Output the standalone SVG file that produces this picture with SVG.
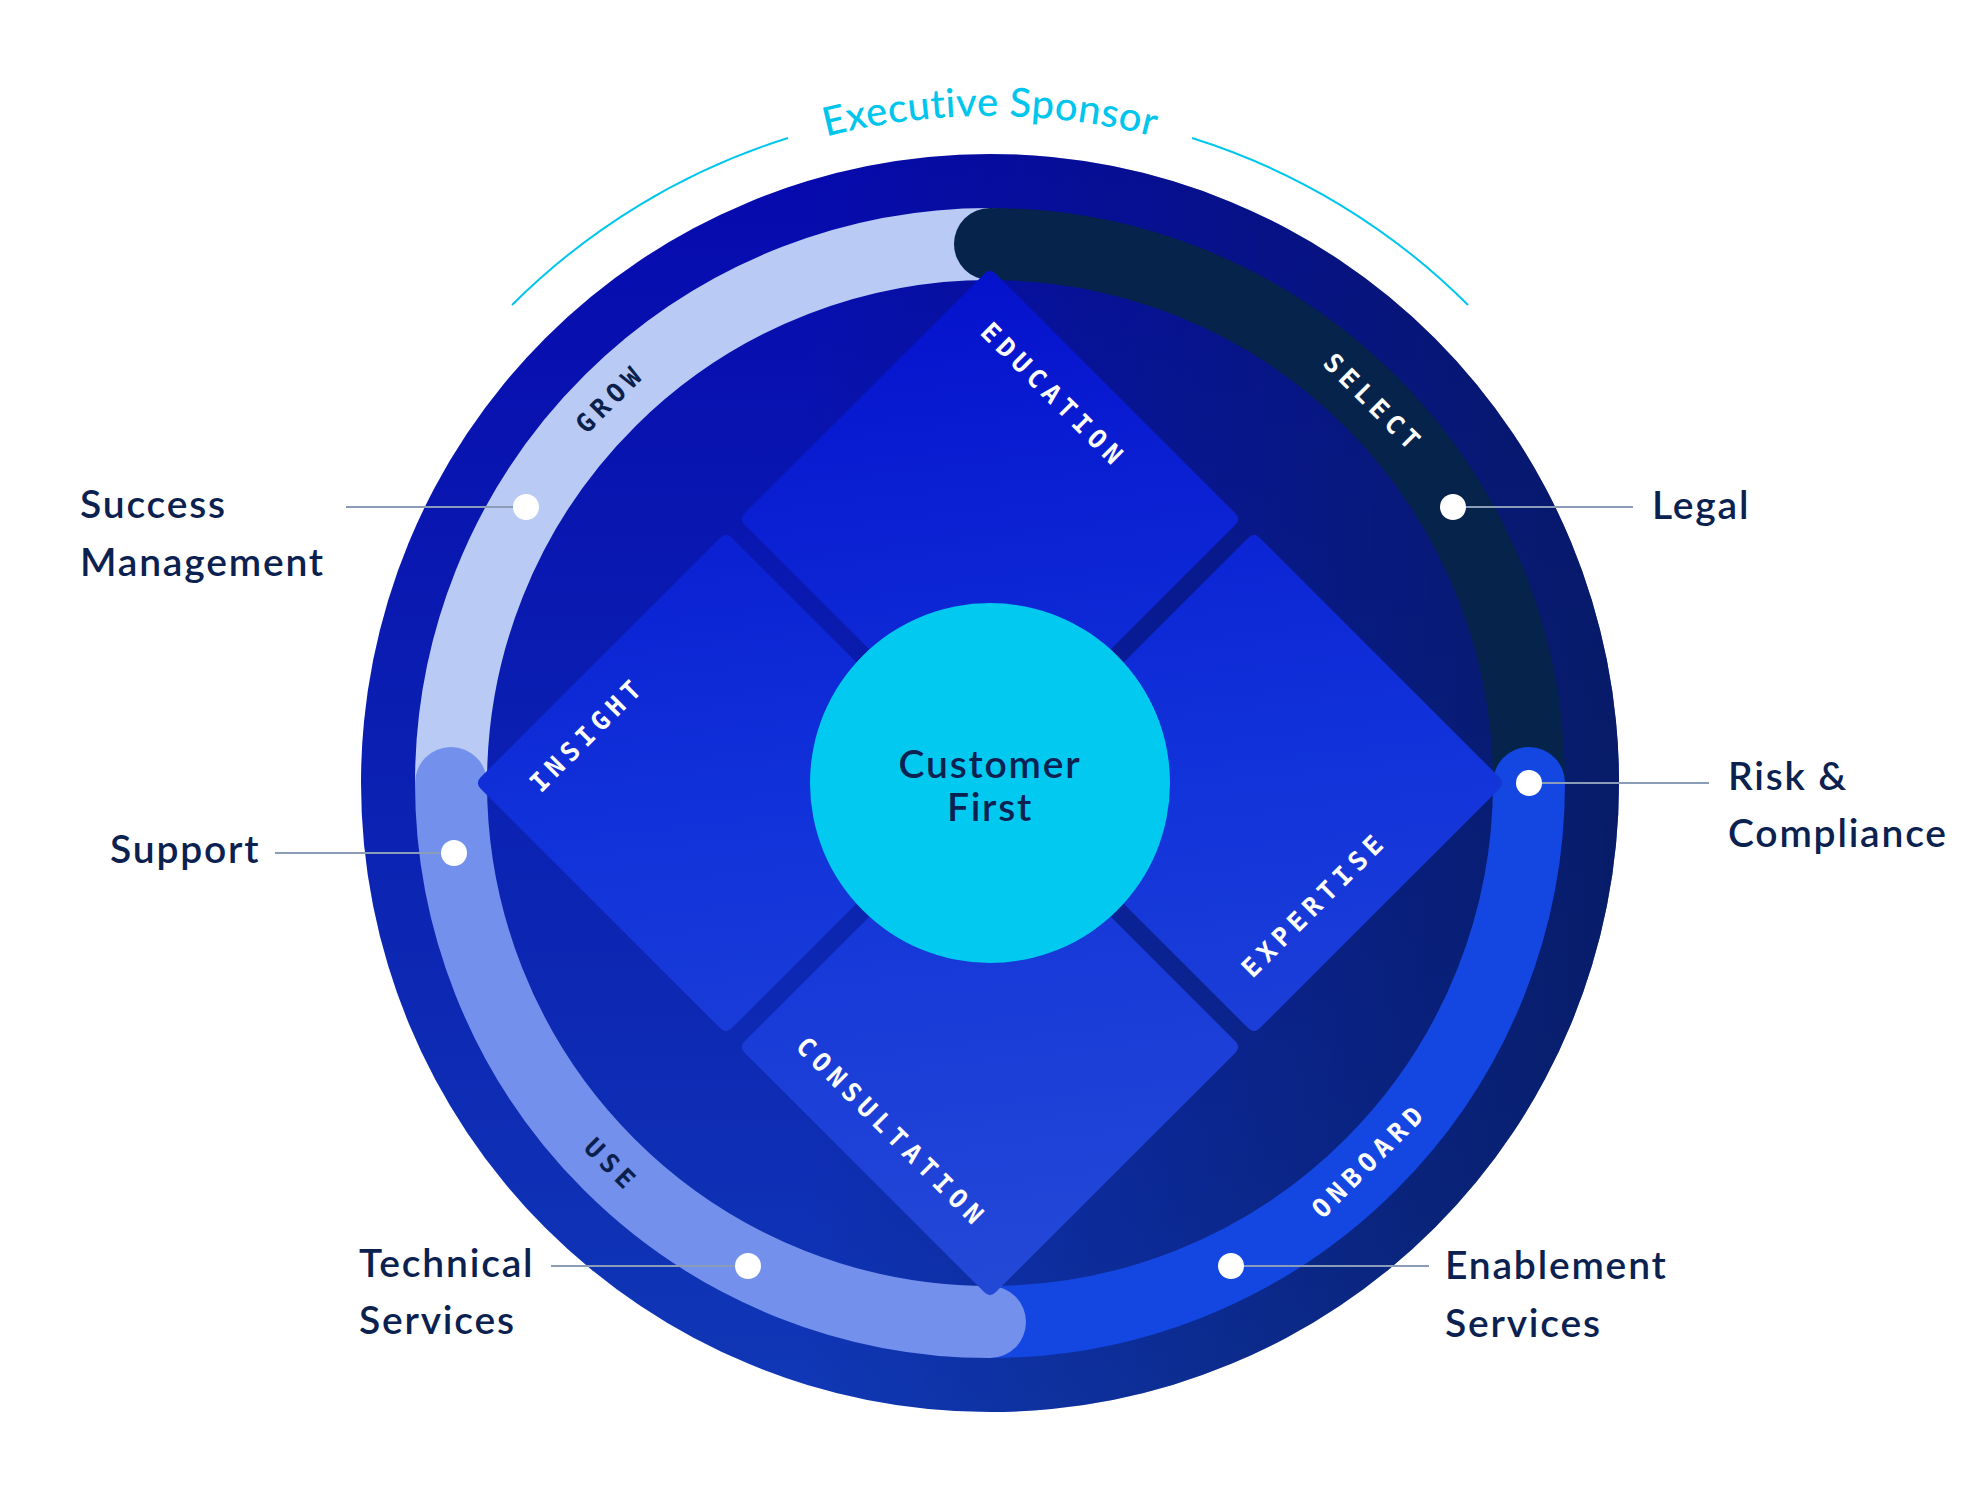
<svg xmlns="http://www.w3.org/2000/svg" width="1980" height="1503" viewBox="0 0 1980 1503">
  <defs>
    <linearGradient id="gV" gradientUnits="userSpaceOnUse" x1="990" y1="154" x2="990" y2="1412">
      <stop offset="0" stop-color="#0609AE"/>
      <stop offset="1" stop-color="#1038B6"/>
    </linearGradient>
    <linearGradient id="gH" gradientUnits="userSpaceOnUse" x1="361" y1="0" x2="1619" y2="0">
      <stop offset="0" stop-color="#061A50" stop-opacity="0"/>
      <stop offset="0.35" stop-color="#061A50" stop-opacity="0"/>
      <stop offset="1" stop-color="#061A50" stop-opacity="0.75"/>
    </linearGradient>
    <linearGradient id="gD" gradientUnits="userSpaceOnUse" x1="930" y1="268" x2="1050" y2="1298">
      <stop offset="0" stop-color="#0511CC"/>
      <stop offset="0.5" stop-color="#1132DA"/>
      <stop offset="1" stop-color="#2449D6"/>
    </linearGradient>
    <path id="sponsorPath" d="M 412.4 449.5 A 667 667 0 0 1 1567.6 449.5"/>
    <style>
      .lbl { font-family: Lato, "Liberation Sans", sans-serif; font-size: 39px; font-weight: 600; letter-spacing: 1.8px; fill: #0B2150; }
      .mono { font-family: "DejaVu Sans Mono", "Liberation Mono", monospace; font-size: 26px; font-weight: 700; letter-spacing: 5.8px; text-anchor: middle; }
      .w { fill: #FFFFFF; }
      .d { fill: #0B1F4D; }
      .seg { fill: none; stroke-width: 72; }
      .diamond { fill: url(#gD); }
      .lead { stroke: #8A9CB8; stroke-width: 2; fill: none; }
      .dot { fill: #FFFFFF; }
      .spon { fill: none; stroke: #00C6EE; stroke-width: 2; }
    </style>
  </defs>

  <rect width="1980" height="1503" fill="#FFFFFF"/>

  <!-- Executive sponsor arc -->
  <g id="executive-sponsor">
    <path class="spon" d="M 512 305 A 676 676 0 0 1 788 138"/>
    <path class="spon" d="M 1192 138 A 676 676 0 0 1 1468 305"/>
    <text font-family="Lato, 'Liberation Sans', sans-serif" font-size="40" font-weight="500" letter-spacing="0.4" fill="#00C6EE"><textPath href="#sponsorPath" startOffset="50%" text-anchor="middle">Executive Sponsor</textPath></text>
  </g>

  <!-- Outer disk -->
  <g id="disk">
    <circle cx="990" cy="783" r="629" fill="url(#gV)"/>
    <circle cx="990" cy="783" r="629" fill="url(#gH)"/>
  </g>

  <!-- Ring segments -->
  <g id="ring">
    <g id="seg-grow">
      <path class="seg" stroke="#B9CAF5" d="M 451 783 A 539 539 0 0 1 995 244"/>
      <text class="mono d" transform="translate(608 400) rotate(-45)" x="2.9" y="9.5">GROW</text>
    </g>
    <g id="seg-select">
      <path class="seg" stroke="#06244B" stroke-linecap="round" d="M 990 244 A 539 539 0 0 1 1529 783"/>
      <text class="mono w" transform="translate(1372 401) rotate(45)" x="2.9" y="9.5">SELECT</text>
    </g>
    <g id="seg-onboard">
      <path class="seg" stroke="#1447E2" stroke-linecap="round" d="M 1529 783 A 539 539 0 0 1 990 1322"/>
      <text class="mono w" transform="translate(1367 1162) rotate(-45)" x="2.9" y="9.5">ONBOARD</text>
    </g>
    <g id="seg-use">
      <path class="seg" stroke="#7390EC" stroke-linecap="round" d="M 990 1322 A 539 539 0 0 1 451 783"/>
      <text class="mono d" transform="translate(610 1163) rotate(45)" x="2.9" y="9.5">USE</text>
    </g>
  </g>

  <!-- Diamonds -->
  <g id="education">
    <path class="diamond" d="M 995.66 273.66 L 1235.34 513.34 Q 1241 519 1235.34 524.66 L 995.66 764.34 Q 990 770 984.34 764.34 L 744.66 524.66 Q 739 519 744.66 513.34 L 984.34 273.66 Q 990 268 995.66 273.66 Z"/>
    <text class="mono w" transform="translate(1052 393) rotate(45)" x="2.9" y="9.5">EDUCATION</text>
  </g>
  <g id="insight">
    <path class="diamond" d="M 731.66 537.66 L 971.34 777.34 Q 977 783 971.34 788.66 L 731.66 1028.34 Q 726 1034 720.34 1028.34 L 480.66 788.66 Q 475 783 480.66 777.34 L 720.34 537.66 Q 726 532 731.66 537.66 Z"/>
    <text class="mono w" transform="translate(585 736) rotate(-45)" x="2.9" y="9.5">INSIGHT</text>
  </g>
  <g id="expertise">
    <path class="diamond" d="M 1259.66 537.66 L 1499.34 777.34 Q 1505 783 1499.34 788.66 L 1259.66 1028.34 Q 1254 1034 1248.34 1028.34 L 1008.66 788.66 Q 1003 783 1008.66 777.34 L 1248.34 537.66 Q 1254 532 1259.66 537.66 Z"/>
    <text class="mono w" transform="translate(1312 906) rotate(-45)" x="2.9" y="9.5">EXPERTISE</text>
  </g>
  <g id="consultation">
    <path class="diamond" d="M 995.66 801.66 L 1235.34 1041.34 Q 1241 1047 1235.34 1052.66 L 995.66 1292.34 Q 990 1298 984.34 1292.34 L 744.66 1052.66 Q 739 1047 744.66 1041.34 L 984.34 801.66 Q 990 796 995.66 801.66 Z"/>
    <text class="mono w" transform="translate(890 1130) rotate(45)" x="2.9" y="9.5">CONSULTATION</text>
  </g>

  <!-- Center -->
  <g id="customer-first">
    <circle cx="990" cy="783" r="180" fill="#02C9F0"/>
    <text class="lbl" x="990" y="778" text-anchor="middle" fill="#0B1D48">Customer</text>
    <text class="lbl" x="990" y="821" text-anchor="middle" fill="#0B1D48">First</text>
  </g>

  <!-- Connectors -->
  <g id="connectors">
    <line class="lead" x1="346" y1="507" x2="526" y2="507"/>
    <line class="lead" x1="1453" y1="507" x2="1633" y2="507"/>
    <line class="lead" x1="1529" y1="783" x2="1709" y2="783"/>
    <line class="lead" x1="275" y1="853" x2="454" y2="853"/>
    <line class="lead" x1="551" y1="1266" x2="748" y2="1266"/>
    <line class="lead" x1="1231" y1="1266" x2="1429" y2="1266"/>
  </g>

  <!-- Callouts -->
  <g id="success-management">
    <circle class="dot" cx="526" cy="507" r="13"/>
    <text class="lbl" x="80" y="518">Success</text>
    <text class="lbl" x="80" y="576">Management</text>
  </g>
  <g id="legal">
    <circle class="dot" cx="1453" cy="507" r="13"/>
    <text class="lbl" x="1652" y="519">Legal</text>
  </g>
  <g id="risk-compliance">
    <circle class="dot" cx="1529" cy="783" r="13"/>
    <text class="lbl" x="1728" y="790">Risk &amp;</text>
    <text class="lbl" x="1728" y="847">Compliance</text>
  </g>
  <g id="support">
    <circle class="dot" cx="454" cy="853" r="13"/>
    <text class="lbl" x="110" y="863">Support</text>
  </g>
  <g id="technical-services">
    <circle class="dot" cx="748" cy="1266" r="13"/>
    <text class="lbl" x="359" y="1277">Technical</text>
    <text class="lbl" x="359" y="1334">Services</text>
  </g>
  <g id="enablement-services">
    <circle class="dot" cx="1231" cy="1266" r="13"/>
    <text class="lbl" x="1445" y="1279">Enablement</text>
    <text class="lbl" x="1445" y="1337">Services</text>
  </g>
</svg>
